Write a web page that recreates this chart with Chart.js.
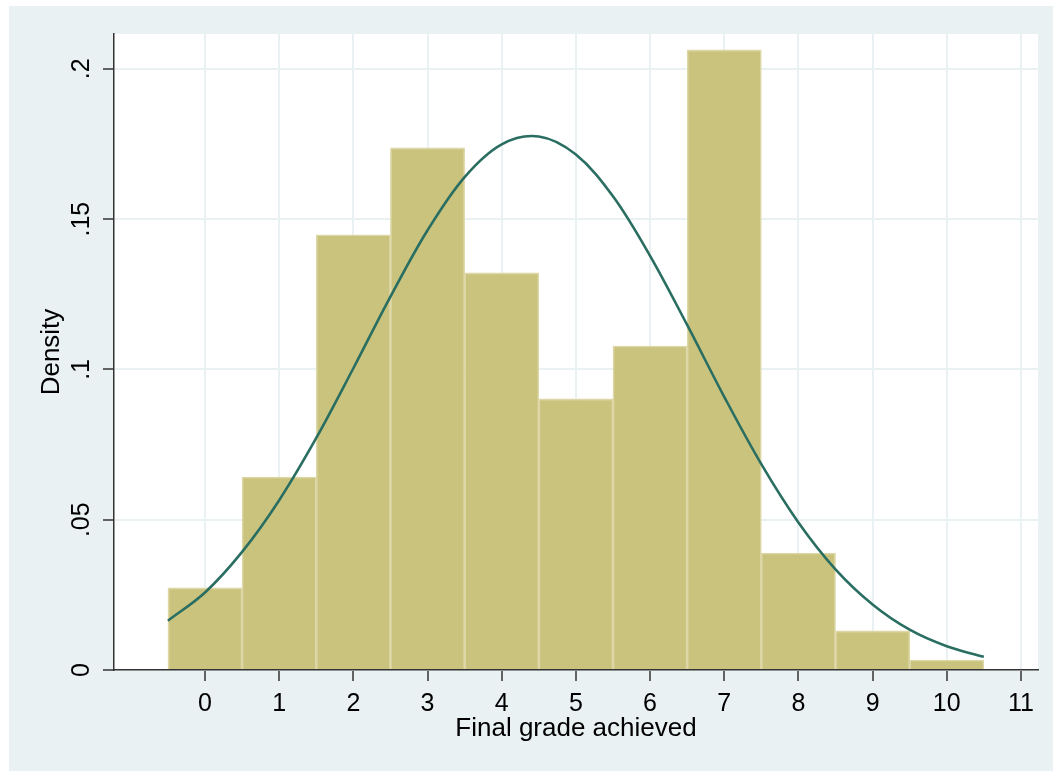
<!DOCTYPE html>
<html>
<head>
<meta charset="utf-8">
<script src="https://cdn.jsdelivr.net/npm/chart.js@4"></script>
<style>
  html, body { margin: 0; padding: 0; background: #fff; }
  #wrap { width: 1056px; height: 771px; position: relative; }
</style>
</head>
<body>
<div id="wrap"><canvas id="gradeChart" width="1056" height="771"></canvas></div>
<script>
// histogram bins (centre of each bin, width 1) and their densities
const binCentres = [0, 1, 2, 3, 4, 5, 6, 7, 8, 9, 10];
const binDensity = [0.0273, 0.0642, 0.1448, 0.1737, 0.1321, 0.0902, 0.1078, 0.2063, 0.0389, 0.0130, 0.0033];

// normal density curve, every half grade
const curveX = [-0.5, 0, 0.5, 1, 1.5, 2, 2.5, 3, 3.5, 4, 4.5, 5, 5.5, 6, 6.5, 7, 7.5, 8, 8.5, 9, 9.5, 10, 10.5];
const curveY = [0.0164, 0.0258, 0.0393, 0.0565, 0.0772, 0.1004, 0.1242, 0.1463, 0.1640, 0.1749, 0.1775, 0.1715,
                0.1576, 0.1378, 0.1148, 0.0909, 0.0685, 0.0491, 0.0335, 0.0218, 0.0134, 0.0079, 0.0044];

const xTicks = [0, 1, 2, 3, 4, 5, 6, 7, 8, 9, 10, 11];
const yTicks = [0, 0.05, 0.1, 0.15, 0.2];
const yTickLabels = ['0', '.05', '.1', '.15', '.2'];

const panelColor = '#e9f1f2';
const axisColor = '#333333';

const backdrop = {
    id: 'backdrop',
    beforeDraw(chart) {
        const ctx = chart.ctx;
        const a = chart.chartArea;
        ctx.save();
        ctx.fillStyle = '#ffffff';
        ctx.fillRect(0, 0, chart.width, chart.height);
        ctx.fillStyle = panelColor;
        ctx.fillRect(9, 6, 1044, chart.height - 6);
        ctx.fillStyle = '#ffffff';
        ctx.fillRect(a.left, a.top, a.right - a.left, a.bottom - a.top);
        ctx.restore();
    }
};

let ctx = document.getElementById('gradeChart').getContext('2d');
new Chart(ctx, {
    data: {
        datasets: [
            {
                type: 'line',
                data: curveX.map((x, i) => ({ x: x, y: curveY[i] })),
                borderColor: '#2a6e62',
                borderWidth: 2.6,
                pointRadius: 0,
                tension: 0.35,
                fill: false,
                order: 0
            },
            {
                type: 'bar',
                data: binCentres.map((x, i) => ({ x: x, y: binDensity[i] })),
                backgroundColor: '#cac37e',
                borderColor: '#ddd7a6',
                borderWidth: 1.6,
                barPercentage: 1,
                categoryPercentage: 1,
                order: 1
            }
        ]
    },
    options: {
        responsive: false,
        animation: false,
        layout: { padding: { left: 0, top: 34, right: 18, bottom: 0 } },
        plugins: {
            legend: { display: false },
            tooltip: { enabled: false }
        },
        scales: {
            x: {
                type: 'linear',
                min: -1.227,
                max: 11.23,
                offset: false,
                afterBuildTicks: (scale) => { scale.ticks = xTicks.map(v => ({ value: v })); },
                afterFit: (scale) => { scale.height = 101; },
                grid: {
                    offset: false,
                    color: panelColor,
                    lineWidth: 2,
                    tickColor: axisColor,
                    tickLength: 11,
                    tickWidth: 1.5
                },
                border: { display: true, color: axisColor, width: 1.5 },
                ticks: {
                    color: '#000',
                    padding: 8,
                    maxRotation: 0,
                    font: { family: 'Liberation Sans, Arial, sans-serif', size: 25 }
                },
                title: {
                    display: true,
                    text: 'Final grade achieved',
                    color: '#000',
                    font: { family: 'Liberation Sans, Arial, sans-serif', size: 26 },
                    padding: { top: 0, bottom: 27 }
                }
            },
            y: {
                type: 'linear',
                min: 0,
                max: 0.2116,
                afterBuildTicks: (scale) => { scale.ticks = yTicks.map(v => ({ value: v })); },
                afterFit: (scale) => { scale.width = 114; },
                grid: {
                    color: panelColor,
                    lineWidth: 2,
                    tickColor: axisColor,
                    tickLength: 11,
                    tickWidth: 1.5
                },
                border: { display: true, color: axisColor, width: 1.5 },
                ticks: {
                    color: '#000',
                    padding: 4,
                    minRotation: 90,
                    maxRotation: 90,
                    crossAlign: 'center',
                    font: { family: 'Liberation Sans, Arial, sans-serif', size: 25 },
                    callback: (value) => yTickLabels[yTicks.indexOf(value)]
                },
                title: {
                    display: true,
                    text: 'Density',
                    color: '#000',
                    font: { family: 'Liberation Sans, Arial, sans-serif', size: 26 },
                    padding: { top: 36, bottom: 0 }
                }
            }
        }
    },
    plugins: [backdrop]
});
</script>
</body>
</html>
